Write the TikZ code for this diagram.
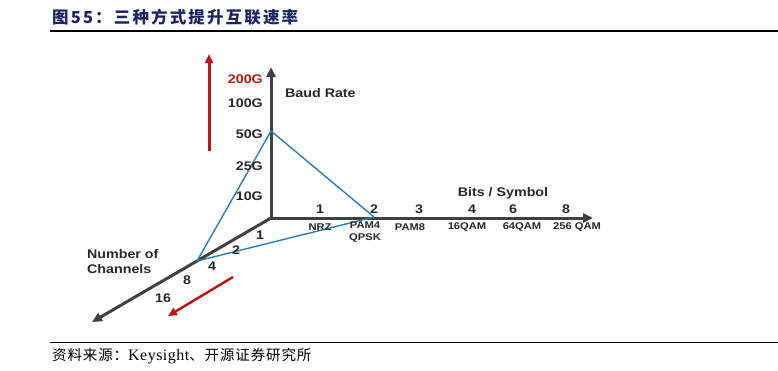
\documentclass[tikz,border=0pt]{standalone}
\usepackage{fontspec}
\usetikzlibrary{arrows.meta}
\newfontfamily\cjk{Noto Sans CJK SC}
\newfontfamily\labfont{Liberation Sans}[FakeStretch=1.14]
\newfontfamily\serifen{Liberation Serif}
\definecolor{titleblue}{RGB}{28,34,100}
\definecolor{axisgray}{RGB}{64,64,64}
\definecolor{labgray}{RGB}{40,40,40}
\definecolor{lineblue}{RGB}{38,125,192}
\definecolor{darkred}{RGB}{190,20,20}
\tikzset{
  axis/.style={draw=axisgray, line width=3pt, -{Triangle[length=10pt,width=9pt]}},
  bline/.style={draw=lineblue, line width=1.4pt},
  rarrow/.style={draw=darkred, line width=3pt, -{Triangle[length=9pt,width=8pt]}},
  lab/.style={font=\labfont\bfseries\fontsize{12.5}{14}\selectfont, text=labgray, inner sep=0pt},
  slab/.style={font=\labfont\bfseries\fontsize{9.8}{11}\selectfont, text=labgray, inner sep=0pt, align=center},
}
\begin{document}
\begin{tikzpicture}[x=1pt,y=-1pt]
\useasboundingbox (0,0) rectangle (778,370);
% header / footer
\node[anchor=west, inner sep=0pt, text=titleblue, font=\cjk\bfseries\fontsize{16.5}{18}\selectfont\addfontfeature{LetterSpace=13}] (title) at (52,17) {图55：三种方式提升互联速率};
\coordinate (tl1) at (50,31); \coordinate (tl2) at (778,31);
\draw[line width=1.5pt] (tl1) -- (tl2);
\coordinate (bl1) at (50,342); \coordinate (bl2) at (778,342);
\draw[line width=1pt] (bl1) -- (bl2);
\node[anchor=west, inner sep=0pt, font=\cjk\fontsize{14.5}{16}\selectfont\addfontfeature{LetterSpace=6}] (foot) at (52,356) {资料来源：{\serifen\fontsize{16}{17}\selectfont\addfontfeature{LetterSpace=3} Keysight}、开源证券研究所};
% axes
\coordinate (O) at (271,218);
\coordinate (Vtip) at (271,67);
\coordinate (Htip) at (593,218);
\coordinate (Dtip) at (92,322);
\draw[axis] (O) -- (Vtip);
\draw[axis] (O) -- (Htip);
\draw[axis] (O) -- (Dtip);
% blue triangle
\coordinate (P50) at (271,131);
\coordinate (P2) at (374,217);
\coordinate (P4) at (197,261);
\draw[bline] (P50) -- (P2);
\draw[bline] (P50) -- (P4);
\draw[bline] (P4) -- (P2);
% red arrows
\coordinate (ra1) at (209,151); \coordinate (ra2) at (209,54);
\draw[rarrow] (ra1) -- (ra2);
\coordinate (rb1) at (233,277); \coordinate (rb2) at (168,316);
\draw[rarrow, line width=2.5pt] (rb1) -- (rb2);
% vertical labels
\node[lab, anchor=east, text=darkred] (v200) at (263,79) {200G};
\node[lab, anchor=east] (v100) at (263,103) {100G};
\node[lab, anchor=east] (v50) at (263,134) {50G};
\node[lab, anchor=east] (v25) at (263,166) {25G};
\node[lab, anchor=east] (v10) at (263,196) {10G};
\node[lab, anchor=west] (baud) at (285,93) {Baud Rate};
% horizontal labels
\node[lab] (bits) at (503,193) {Bits / Symbol};
\node[lab] (h1) at (320,209) {1};
\node[lab] (h2) at (374,209) {2};
\node[lab] (h3) at (419,209) {3};
\node[lab] (h4) at (472,209) {4};
\node[lab] (h6) at (513,209) {6};
\node[lab] (h8) at (566,209) {8};
\node[slab] (nrz) at (320,227) {NRZ};
\node[slab, anchor=north] (pam4) at (365,222) {PAM4\\[1pt]QPSK};
\node[slab] (pam8) at (410,227) {PAM8};
\node[slab] (q16) at (467,227) {16QAM};
\node[slab] (q64) at (522,227) {64QAM};
\node[slab] (q256) at (577,227) {256 QAM};
% diagonal labels
\node[lab] (d1) at (260,235) {1};
\node[lab] (d2) at (236,250) {2};
\node[lab] (d4) at (212,266) {4};
\node[lab] (d8) at (187,280) {8};
\node[lab] (d16) at (163,298) {16};
\node[lab, anchor=west, align=left] (chan) at (87,262) {Number of\\[1pt]Channels};
\end{tikzpicture}
\end{document}
